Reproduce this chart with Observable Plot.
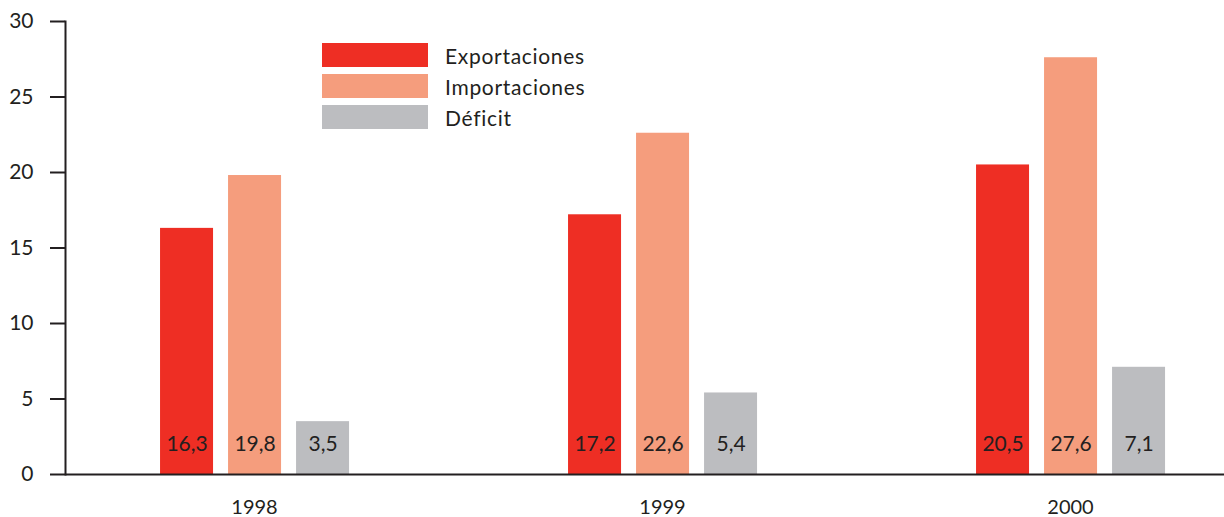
<!DOCTYPE html>
<html>
<head>
<meta charset="utf-8">
<script src="https://cdn.jsdelivr.net/npm/d3@7"></script>
<script src="https://cdn.jsdelivr.net/npm/@observablehq/plot@0.6"></script>
<style>
  html, body { margin: 0; padding: 0; background: #fff; overflow: hidden; }
  #wrap { position: relative; width: 1224px; height: 517px; }
  #legend { position: absolute; left: 322px; top: 43px; font-family: Lato, sans-serif; font-size: 21px; letter-spacing: 0.7px; color: #231F20; }
  .row { display: flex; align-items: center; height: 24px; margin-bottom: 7px; }
  .sw { width: 106px; height: 24px; margin-right: 17px; }
</style>
</head>
<body>
<div id="wrap"><div id="legend"></div></div>
<script>
const years = ["1998", "1999", "2000"];
const series = ["Exportaciones", "Importaciones", "Déficit"];
const exportaciones = [16.3, 17.2, 20.5];
const importaciones = [19.8, 22.6, 27.6];
const deficit = [3.5, 5.4, 7.1];
const colors = ["#EE2E24", "#F59D7D", "#BCBDC0"];
const yTicks = [0, 5, 10, 15, 20, 25, 30];

const values = [exportaciones, importaciones, deficit];
const data = years.flatMap((year, i) => series.map((serie, j) => ({year, serie, value: values[j][i]})));
const fmt = v => v.toFixed(1).replace(".", ",");
const ink = "#231F20";

const chart = Plot.plot({
  width: 1224,
  height: 517,
  marginLeft: 65,
  marginRight: 0,
  marginTop: 21,
  marginBottom: 43,
  style: {fontFamily: "Lato, sans-serif", color: ink, background: "white", overflow: "hidden"},
  fx: {domain: years, range: [65, 65 + 3 * 408], padding: 0, round: false},
  x: {domain: series, axis: null, paddingInner: 0.2206, paddingOuter: 1.61, align: 0.434, round: false},
  y: {domain: [0, 30]},
  color: {domain: series, range: colors},
  marks: [
    Plot.barY(data, {fx: "year", x: "serie", y: "value", fill: "serie"}),
    Plot.text(data, {fx: "year", x: "serie", y: 0, text: d => fmt(d.value), dy: -30, fontSize: 21, fill: ink}),
    Plot.ruleY([0], {facetAnchor: "left", stroke: ink, strokeWidth: 2, insetRight: -900}),
    Plot.frame({anchor: "left", facetAnchor: "left", stroke: ink, strokeWidth: 2}),
    Plot.axisY(yTicks, {tickSize: 15, tickPadding: 17, strokeWidth: 2, stroke: ink, fill: ink, fontSize: 21, label: null}),
    Plot.axisFx({anchor: "bottom", tickSize: 0, tickPadding: 25, dx: -15, fontSize: 20, fill: ink, label: null})
  ]
});
document.getElementById("wrap").prepend(chart);

const legend = document.getElementById("legend");
series.forEach((s, i) => {
  const row = document.createElement("div");
  row.className = "row";
  const sw = document.createElement("div");
  sw.className = "sw";
  sw.style.background = colors[i];
  const t = document.createElement("span");
  t.textContent = s;
  row.append(sw, t);
  legend.append(row);
});
</script>
</body>
</html>
